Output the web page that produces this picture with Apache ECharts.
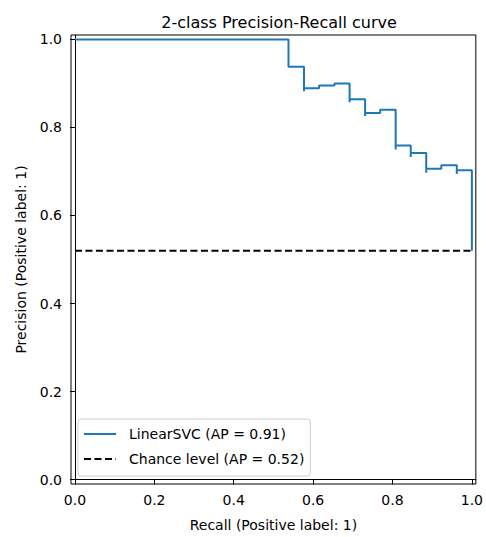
<!DOCTYPE html>
<html>
<head>
<meta charset="utf-8">
<script src="https://cdn.jsdelivr.net/npm/echarts@6/dist/echarts.min.js"></script>
<style>
html,body{margin:0;padding:0;background:#fff;}
#c{width:486px;height:537px;}
</style>
</head>
<body>
<div id="c"></div>
<script>
// PR curve points, ordered as returned (recall decreasing), drawn as steps-post
const recall = [1.000, 1.000, 0.962, 0.962, 0.923, 0.885, 0.885, 0.846, 0.846, 0.808, 0.808, 0.769, 0.731, 0.731, 0.692, 0.692, 0.654, 0.615, 0.577, 0.577, 0.538, 0.000];
const precision = [0.520, 0.703, 0.694, 0.714, 0.706, 0.697, 0.742, 0.733, 0.759, 0.750, 0.840, 0.833, 0.826, 0.864, 0.857, 0.900, 0.895, 0.889, 0.882, 0.938, 1.000, 1.000];
const chanceRecall = [0, 1];
const chanceLevel = [0.52, 0.52];
const tickValues = [0, 0.2, 0.4, 0.6, 0.8, 1.0];
const seriesNames = ['LinearSVC (AP = 0.91)', 'Chance level (AP = 0.52)'];

const FONT = 'DejaVu Sans';
const chart = echarts.init(document.getElementById('c'), null, {renderer: 'svg'});

function axisCommon(name, nameGap, rotate) {
  return {
    type: 'value',
    min: -0.01,
    max: 1.01,
    name: name,
    nameLocation: 'middle',
    nameGap: nameGap,
    nameRotate: rotate,
    nameTextStyle: {fontFamily: FONT, fontSize: 14, color: '#000'},
    axisLine: {show: true, lineStyle: {color: '#000', width: 1}},
    axisTick: {show: true, length: 5, lineStyle: {color: '#000', width: 1}, customValues: tickValues},
    axisLabel: {show: true, fontFamily: FONT, fontSize: 14, color: '#000', margin: 9,
      customValues: tickValues, formatter: v => v.toFixed(1)},
    splitLine: {show: false}
  };
}

const xAxis = axisCommon('Recall (Positive label: 1)', 34, 0);
const yAxis = axisCommon('Precision (Positive label: 1)', 43, 90);

chart.setOption({
  animation: false,
  backgroundColor: '#fff',
  title: {
    text: '2-class Precision-Recall curve',
    left: 274, top: 9, textAlign: 'center',
    textStyle: {fontFamily: FONT, fontSize: 16, fontWeight: 'normal', color: '#000'}
  },
  grid: {left: 71, right: 9, top: 35, bottom: 53, show: true, borderColor: '#000', borderWidth: 1, backgroundColor: 'transparent'},
  xAxis: xAxis,
  yAxis: yAxis,
  legend: {
    orient: 'vertical',
    left: 78, top: 419,
    padding: [8, 6, 10, 5],
    itemWidth: 32, itemHeight: 14, itemGap: 11,
    backgroundColor: 'rgba(255,255,255,0.8)',
    borderColor: '#cccccc', borderWidth: 1, borderRadius: 3,
    itemStyle: {opacity: 0},
    textStyle: {fontFamily: FONT, fontSize: 14, color: '#000', lineHeight: 14, padding: [0, 0, 0, 8]},
    data: seriesNames
  },
  series: [
    {
      name: seriesNames[0],
      type: 'line',
      step: 'end',
      symbol: 'none',
      data: recall.map((r, i) => [r, precision[i]]),
      lineStyle: {color: '#1f77b4', width: 2},
      itemStyle: {color: '#1f77b4'}
    },
    {
      name: seriesNames[1],
      type: 'line',
      symbol: 'none',
      data: chanceRecall.map((r, i) => [r, chanceLevel[i]]),
      lineStyle: {color: '#000', width: 2, type: [7, 3.5]},
      itemStyle: {color: '#000'}
    }
  ]
});
</script>
</body>
</html>
